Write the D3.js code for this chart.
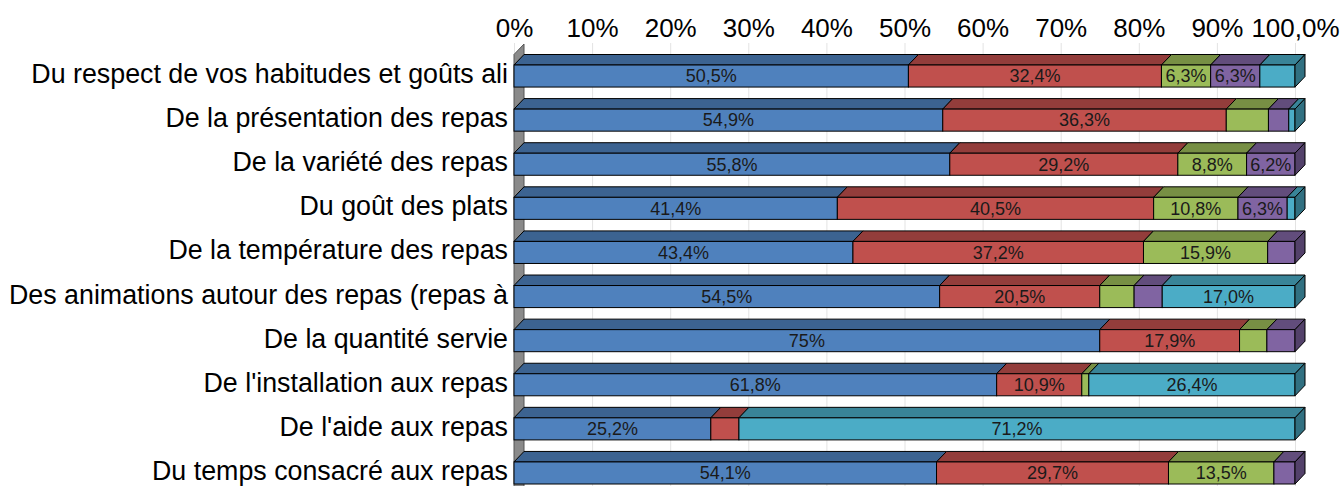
<!DOCTYPE html>
<html>
<head>
<meta charset="utf-8">
<script src="https://cdn.jsdelivr.net/npm/d3@7"></script>
<style>
  body { margin: 0; background: #fff; }
  svg { display: block; font-family: "Liberation Sans", Arial, sans-serif; }
</style>
</head>
<body>
<div id="chart"></div>
<script>
const categories = [
    'Du respect de vos habitudes et goûts ali',
    'De la présentation des repas',
    'De la variété des repas',
    'Du goût des plats',
    'De la température des repas',
    'Des animations autour des repas (repas à',
    'De la quantité servie',
    "De l'installation aux repas",
    "De l'aide aux repas",
    'Du temps consacré aux repas'
];

// five stacked series, in %
const serie1 = [50.5, 54.9, 55.8, 41.4, 43.4, 54.5, 75, 61.8, 25.2, 54.1];
const serie2 = [32.4, 36.3, 29.2, 40.5, 37.2, 20.5, 17.9, 10.9, 3.6, 29.7];
const serie3 = [6.3, 5.4, 8.8, 10.8, 15.9, 4.4, 3.5, 0.9, 0, 13.5];
const serie4 = [6.3, 2.6, 6.2, 6.3, 3.5, 3.6, 3.6, 0, 0, 2.7];
const serie5 = [4.5, 0.8, 0, 1.0, 0, 17.0, 0, 26.4, 71.2, 0];

// data labels as printed on the bars
const labels1 = ['50,5%', '54,9%', '55,8%', '41,4%', '43,4%', '54,5%', '75%', '61,8%', '25,2%', '54,1%'];
const labels2 = ['32,4%', '36,3%', '29,2%', '40,5%', '37,2%', '20,5%', '17,9%', '10,9%', '', '29,7%'];
const labels3 = ['6,3%', '', '8,8%', '10,8%', '15,9%', '', '', '', '', '13,5%'];
const labels4 = ['6,3%', '', '6,2%', '6,3%', '', '', '', '', '', ''];
const labels5 = ['', '', '', '', '', '17,0%', '', '26,4%', '71,2%', ''];

const tickValues = [0, 10, 20, 30, 40, 50, 60, 70, 80, 90, 100];
const tickLabels = ['0%', '10%', '20%', '30%', '40%', '50%', '60%', '70%', '80%', '90%', '100,0%'];

const seriesColors = ['#4F81BD', '#C0504D', '#9BBB59', '#8064A2', '#4BACC6'];

const allSeries = [serie1, serie2, serie3, serie4, serie5];
const allLabels = [labels1, labels2, labels3, labels4, labels5];

const width = 1343, height = 486;
const depthX = 10, depthY = 10.5;

const svg = d3.select('#chart').append('svg')
    .attr('width', width)
    .attr('height', height);

svg.append('rect').attr('width', width).attr('height', height).attr('fill', '#fff');

const xScale = d3.scaleLinear().domain([0, 100]).range([514, 1295]);
const yScale = d3.scaleBand().domain(categories).range([65, 484]).paddingInner(0.5).paddingOuter(0);

// gridlines
svg.append('g')
    .selectAll('line')
    .data(tickValues)
    .enter()
    .append('line')
    .attr('x1', d => xScale(d) + 0.5)
    .attr('x2', d => xScale(d) + 0.5)
    .attr('y1', 43)
    .attr('y2', height)
    .attr('stroke', '#e3e3e3')
    .attr('stroke-width', 1);

// left side wall
const wallTop = yScale(categories[0]) - depthY;
svg.append('path')
    .attr('d', `M${xScale(0)},${wallTop}L${xScale(0) + depthX},${wallTop - depthY}L${xScale(0) + depthX},${height + 5}L${xScale(0)},${height + 5}Z`)
    .attr('fill', '#8a8a8a')
    .attr('stroke', '#555')
    .attr('stroke-width', 1);

// top axis
const xAxis = svg.append('g')
    .attr('transform', 'translate(0,37)')
    .call(d3.axisTop(xScale)
        .tickValues(tickValues)
        .tickFormat((d, i) => tickLabels[i])
        .tickSize(0)
        .tickPadding(0));
xAxis.select('.domain').remove();
xAxis.selectAll('text')
    .attr('font-size', '26px')
    .attr('font-family', '"Liberation Sans", Arial, sans-serif')
    .attr('fill', '#000');

// category axis
const yAxis = svg.append('g')
    .attr('transform', 'translate(508,0)')
    .call(d3.axisLeft(yScale).tickSize(0).tickPadding(0));
yAxis.select('.domain').remove();
yAxis.selectAll('text')
    .attr('dy', '0.26em')
    .attr('font-size', '26.8px')
    .attr('font-family', '"Liberation Sans", Arial, sans-serif')
    .attr('fill', '#000');

// stacked 3D bars
const bars = svg.append('g');
const bh = yScale.bandwidth();

categories.forEach((cat, row) => {
    const y0 = yScale(cat);
    let acc = 0;
    // last non-zero segment gets the side face
    let lastIdx = 0;
    allSeries.forEach((s, k) => { if (s[row] > 0) lastIdx = k; });

    allSeries.forEach((s, k) => {
        const v = s[row];
        if (v <= 0) return;
        const xa = xScale(acc);
        const xb = xScale(acc + v);
        acc += v;
        const base = d3.color(seriesColors[k]);
        const topColor = base.darker(0.75);
        const sideColor = base.darker(1.2);

        // top face
        bars.append('path')
            .attr('d', `M${xa},${y0}L${xa + depthX},${y0 - depthY}L${xb + depthX},${y0 - depthY}L${xb},${y0}Z`)
            .attr('fill', topColor)
            .attr('stroke', '#000')
            .attr('stroke-width', 1)
            .attr('stroke-linejoin', 'round');

        // front face
        bars.append('rect')
            .attr('x', xa)
            .attr('y', y0)
            .attr('width', xb - xa)
            .attr('height', bh)
            .attr('fill', base)
            .attr('stroke', '#000')
            .attr('stroke-width', 1);

        if (k === lastIdx) {
            bars.append('path')
                .attr('d', `M${xb},${y0}L${xb + depthX},${y0 - depthY}L${xb + depthX},${y0 + bh - depthY}L${xb},${y0 + bh}Z`)
                .attr('fill', sideColor)
                .attr('stroke', '#000')
                .attr('stroke-width', 1)
                .attr('stroke-linejoin', 'round');
        }

        const lab = allLabels[k][row];
        if (lab) {
            bars.append('text')
                .attr('x', (xa + xb) / 2)
                .attr('y', y0 + bh / 2)
                .attr('dy', '0.35em')
                .attr('text-anchor', 'middle')
                .attr('font-size', '18px')
                .attr('fill', '#1a1a1a')
                .text(lab);
        }
    });
});
</script>
</body>
</html>
